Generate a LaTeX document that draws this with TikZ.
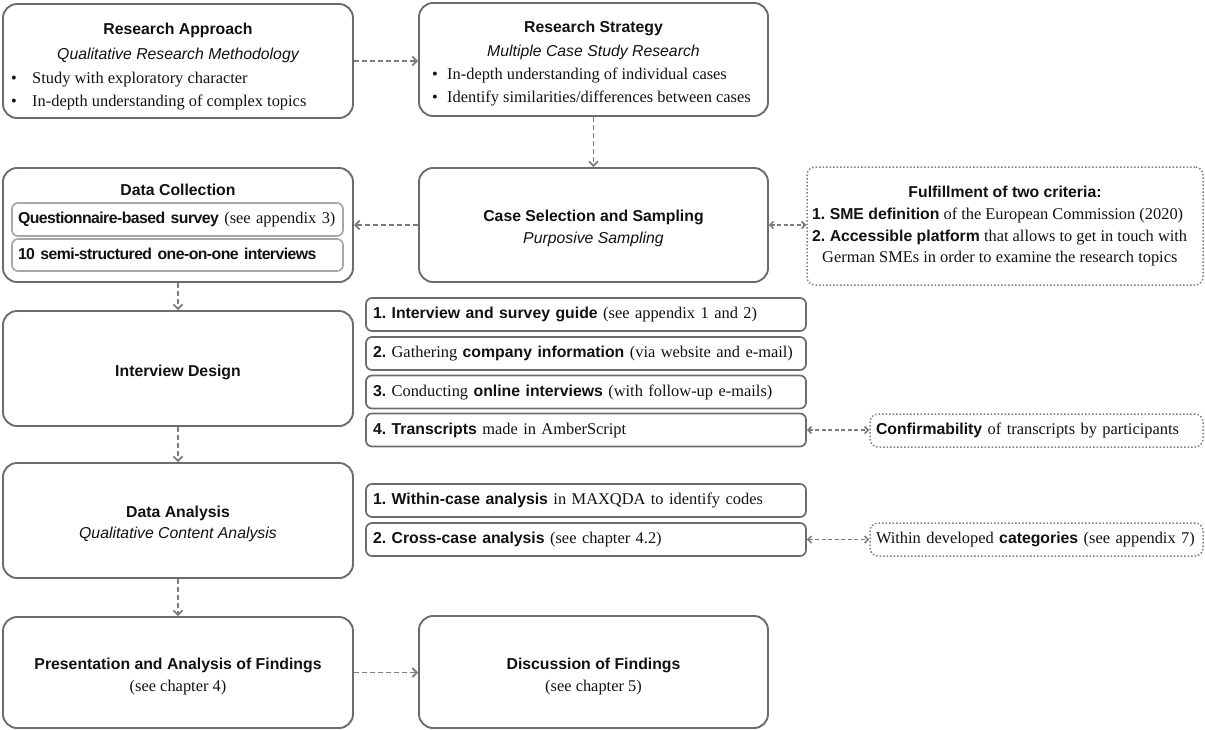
\documentclass[tikz,border=0pt]{standalone}
\usepackage{fontspec}
\setmainfont{Liberation Serif}
\setsansfont{Liberation Sans}
\newfontfamily\condsans[LetterSpace=-3.5]{Liberation Sans}
\usetikzlibrary{arrows.meta}
\definecolor{boxgray}{HTML}{6C6C6C}
\definecolor{arrgray}{HTML}{7C7C7C}
\definecolor{subgray}{HTML}{A8A8A8}
\definecolor{txt}{HTML}{111111}
\newcommand\bsf[1]{{\sffamily\bfseries\fontsize{15.8pt}{23pt}\selectfont #1}}
\newcommand\bsfc[1]{{\condsans\bfseries\fontsize{15.8pt}{23pt}\selectfont #1}}
\newcommand\isf[1]{{\sffamily\itshape\fontsize{15.8pt}{23pt}\selectfont #1}}
\newcommand\serifsz{\fontsize{16.4pt}{23pt}\selectfont}
\frenchspacing
\begin{document}
\frenchspacing
\begin{tikzpicture}[x=1pt,y=-1pt,
  mainbox/.style={draw=boxgray, line width=1.9pt, rounded corners=14pt, inner sep=0pt},
  itembox/.style={draw=boxgray, line width=1.7pt, rounded corners=6pt, inner xsep=7pt, inner ysep=0pt,
     minimum width=440pt, minimum height=33pt, text width=426pt, align=left, font=\serifsz\frenchspacing,
     text height=12pt, text depth=4pt, text=txt},
  subbox/.style={draw=subgray, line width=1.7pt, rounded corners=6pt, inner xsep=6pt, inner ysep=0pt,
     minimum width=331pt, text width=319pt, align=left, font=\serifsz\frenchspacing,
     text height=12pt, text depth=4pt, text=txt},
  dotbox/.style={draw=arrgray, line width=1.5pt, dotted, rounded corners=8pt, inner xsep=6pt, inner ysep=0pt,
     font=\serifsz\frenchspacing, text height=12pt, text depth=4pt, text=txt},
  lbl/.style={inner sep=0pt, anchor=base, font=\serifsz\frenchspacing, text=txt},
  lblw/.style={inner sep=0pt, anchor=base west, font=\serifsz\frenchspacing, text=txt},
  flow/.style={draw=arrgray, line width=1.8pt, dash pattern=on 5pt off 3pt,
     -{Straight Barb[length=4.5pt,width=9pt]}},
  biflow/.style={draw=arrgray, line width=1.6pt, dash pattern=on 4pt off 2.5pt,
     {Straight Barb[length=3.5pt,width=7pt]}-{Straight Barb[length=3.5pt,width=7pt]}}
]
\useasboundingbox (0,0) rectangle (1205,729);

% ---------- main boxes ----------
\node[mainbox, minimum width=350pt, minimum height=114pt] (ra) at (178,61) {};
\node[mainbox, minimum width=349pt, minimum height=113pt] (rs) at (593.5,59.5) {};
\node[mainbox, minimum width=350pt, minimum height=114pt] (dc) at (178,225) {};
\node[mainbox, minimum width=349pt, minimum height=114pt] (cs) at (593.5,225) {};
\node[dotbox, minimum width=396pt, minimum height=118pt] (crit) at (1005,226) {};
\node[mainbox, minimum width=350pt, minimum height=115pt] (id) at (178,368.5) {};
\node[mainbox, minimum width=350pt, minimum height=115pt] (da) at (178,520.5) {};
\node[mainbox, minimum width=350pt, minimum height=111pt] (pres) at (178,672.5) {};
\node[mainbox, minimum width=349pt, minimum height=112pt] (disc) at (593.5,672) {};

% ---------- texts of main boxes ----------
\node[lbl] (raT) at (178,34) {\bsf{Research Approach}};
\node[lbl] (raS) at (178,59) {\isf{Qualitative Research Methodology}};
\node[lblw] (raB1) at (11,83) {\makebox[21pt][l]{•}Study with exploratory character};
\node[lblw] (raB2) at (11,106) {\makebox[21pt][l]{•}In-depth understanding of complex topics};

\node[lbl] (rsT) at (593.5,32) {\bsf{Research Strategy}};
\node[lbl] (rsS) at (593.5,56) {\isf{Multiple Case Study Research}};
\node[lblw] (rsB1) at (432,79) {\makebox[15pt][l]{•}In-depth understanding of individual cases};
\node[lblw] (rsB2) at (432,102) {\makebox[15pt][l]{•}Identify similarities/differences between cases};

\node[lbl] (dcT) at (178,195) {\bsf{Data Collection}};
\node[subbox, minimum height=33pt] (q) at (177.5,219.5) {\bsfc{Questionnaire-based survey} (see appendix 3)};
\node[subbox, minimum height=32pt] (s) at (177.5,255) {\bsfc{10 semi-structured one-on-one interviews}};

\node[lbl] (csT) at (593.5,221) {\bsf{Case Selection and Sampling}};
\node[lbl] (csS) at (593.5,243) {\isf{Purposive Sampling}};

\node[lbl] (critT) at (1005,197) {\bsf{Fulfillment of two criteria:}};
\node[lblw] (crit1) at (812,219) {\bsf{1. SME definition} of the European Commission (2020)};
\node[lblw] (crit2) at (812,241) {\bsf{2. Accessible platform} that allows to get in touch with};
\node[lblw] (crit3) at (822,262) {German SMEs in order to examine the research topics};

\node[lbl] (idT) at (178,376) {\bsf{Interview Design}};

\node[lbl] (daT) at (178,517) {\bsf{Data Analysis}};
\node[lbl] (daS) at (178,538) {\isf{Qualitative Content Analysis}};

\node[lbl] (presT) at (178,669) {\bsf{Presentation and Analysis of Findings}};
\node[lbl] (presS) at (178,691) {(see chapter 4)};

\node[lbl] (discT) at (593.5,669) {\bsf{Discussion of Findings}};
\node[lbl] (discS) at (593.5,691) {(see chapter 5)};

% ---------- item boxes ----------
\node[itembox] (i1) at (586,314.5) {\bsf{1. Interview and survey guide} (see appendix 1 and 2)};
\node[itembox] (i2) at (586,353.5) {\bsf{2.} Gathering \bsf{company information} (via website and e-mail)};
\node[itembox] (i3) at (586,392) {\bsf{3.} Conducting \bsf{online interviews} (with follow-up e-mails)};
\node[itembox] (i4) at (586,430) {\bsf{4. Transcripts} made in AmberScript};
\node[dotbox, minimum width=333pt, minimum height=33pt, text width=321pt, align=left] (conf) at (1036.5,430.5)
  {\bsf{Confirmability} of transcripts by participants};

\node[itembox] (d1) at (586,500.5) {\bsf{1. Within-case analysis} in MAXQDA to identify codes};
\node[itembox] (d2) at (586,539.5) {\bsf{2. Cross-case analysis} (see chapter 4.2)};
\node[dotbox, minimum width=333pt, minimum height=33pt, text width=321pt, align=left] (within) at (1036.5,539.5)
  {Within developed \bsf{categories} (see appendix 7)};

% ---------- connectors ----------
\draw[flow] (ra.east) -- (ra.east -| rs.west);
\draw[flow] (rs.south) -- (cs.north);
\draw[flow] (cs.west) -- (dc.east);
\draw[biflow] (cs.east) -- (cs.east -| crit.west);
\draw[flow] (dc.south) -- (id.north);
\draw[flow] (id.south) -- (da.north);
\draw[flow] (da.south) -- (pres.north);
\draw[flow] (pres.east) -- (pres.east -| disc.west);
\draw[biflow] (i4.east) -- (i4.east -| conf.west);
\draw[biflow] (d2.east) -- (d2.east -| within.west);
\end{tikzpicture}
\end{document}
